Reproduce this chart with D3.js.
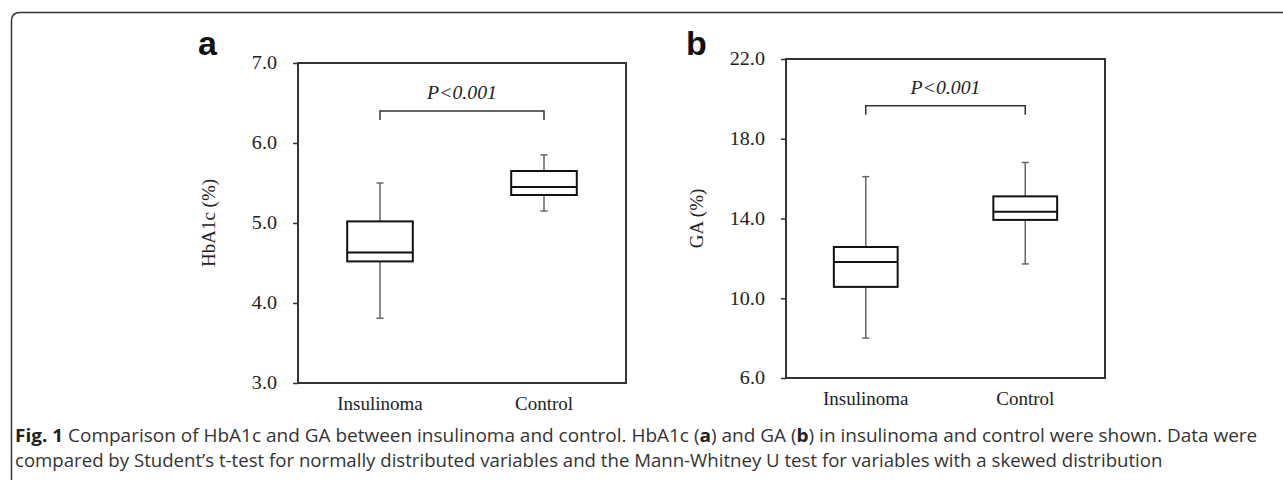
<!DOCTYPE html>
<html>
<head>
<meta charset="utf-8">
<script src="https://cdn.jsdelivr.net/npm/d3@7"></script>
<style>
  body { margin: 0; background: #fff; }
  svg { display: block; }
</style>
</head>
<body>
<div id="chart"></div>
<script>
// groups
const categories = ['Insulinoma', 'Control'];

// HbA1c (%) box stats
const hba1cLow = [3.81, 5.15];
const hba1cQ1 = [4.52, 5.35];
const hba1cMedian = [4.63, 5.45];
const hba1cQ3 = [5.02, 5.65];
const hba1cHigh = [5.50, 5.85];
const hba1cTicks = [3, 4, 5, 6, 7];
const hba1cBracket = 6.4;

// GA (%) box stats
const gaLow = [8.0, 11.72];
const gaQ1 = [10.57, 13.93];
const gaMedian = [11.82, 14.34];
const gaQ3 = [12.57, 15.11];
const gaHigh = [16.1, 16.81];
const gaTicks = [6, 10, 14, 18, 22];
const gaBracket = 19.66;

const pLabel = 'P<0.001';

const W = 1283, H = 480;
const svg = d3.select('#chart').append('svg')
    .attr('width', W)
    .attr('height', H);

// widen glyphs sideways around the text's anchor point (the original figure is stretched)
function stretch(sel, k) {
  sel.each(function () {
    const t = d3.select(this);
    const x = +t.attr('x') || 0, y = +t.attr('y') || 0;
    t.attr('x', 0).attr('y', 0).attr('transform', `translate(${x},${y}) scale(${k},1)`);
  });
}

// outer rounded border (right and bottom run off the picture)
svg.append('path')
    .attr('d', 'M11.5,' + (H + 5) + ' L11.5,21 Q11.5,12.5 20,12.5 L' + (W + 5) + ',12.5')
    .attr('fill', 'none')
    .attr('stroke', '#333')
    .attr('stroke-width', 1.5);

function drawPanel(opt) {
  const g = svg.append('g').attr('transform', `translate(${opt.left},${opt.top})`);
  const w = opt.width, h = opt.height;

  const y = d3.scaleLinear().domain(d3.extent(opt.ticks)).range([h, 0]);
  const x = d3.scalePoint().domain(categories).range([0, w]).padding(0.5);
  const boxW = w * 0.2;

  // y axis
  const ax = g.append('g')
      .call(d3.axisLeft(y).tickValues(opt.ticks).tickFormat(d3.format('.1f')).tickSize(5).tickPadding(16));
  ax.select('.domain').remove();
  ax.selectAll('line').attr('stroke', '#333').attr('stroke-width', 1.5);
  ax.selectAll('text')
      .attr('font-family', 'Liberation Serif')
      .attr('font-size', 18)
      .attr('fill', '#222')
      .call(stretch, 1.12);

  // frame
  g.append('rect')
      .attr('width', w)
      .attr('height', h)
      .attr('fill', 'none')
      .attr('stroke', '#333')
      .attr('stroke-width', 2);

  const rows = categories.map((c, i) => ({
    c: c, lo: opt.low[i], q1: opt.q1[i], med: opt.median[i], q3: opt.q3[i], hi: opt.high[i]
  }));

  const box = g.selectAll('g.box').data(rows).enter().append('g').attr('class', 'box');

  // whiskers
  box.append('line')
      .attr('x1', d => x(d.c)).attr('x2', d => x(d.c))
      .attr('y1', d => y(d.hi)).attr('y2', d => y(d.q3))
      .attr('stroke', '#666').attr('stroke-width', 1.5);
  box.append('line')
      .attr('x1', d => x(d.c)).attr('x2', d => x(d.c))
      .attr('y1', d => y(d.q1)).attr('y2', d => y(d.lo))
      .attr('stroke', '#666').attr('stroke-width', 1.5);
  ['hi', 'lo'].forEach(k => {
    box.append('line')
        .attr('x1', d => x(d.c) - 3.5).attr('x2', d => x(d.c) + 3.5)
        .attr('y1', d => y(d[k])).attr('y2', d => y(d[k]))
        .attr('stroke', '#666').attr('stroke-width', 1.5);
  });

  // boxes
  box.append('rect')
      .attr('x', d => x(d.c) - boxW / 2)
      .attr('y', d => y(d.q3))
      .attr('width', boxW)
      .attr('height', d => y(d.q1) - y(d.q3))
      .attr('fill', '#fff')
      .attr('stroke', '#111')
      .attr('stroke-width', 2);
  box.append('line')
      .attr('x1', d => x(d.c) - boxW / 2).attr('x2', d => x(d.c) + boxW / 2)
      .attr('y1', d => y(d.med)).attr('y2', d => y(d.med))
      .attr('stroke', '#111').attr('stroke-width', 2);

  // significance bracket
  const by = y(opt.bracket);
  const x0 = x(categories[0]), x1 = x(categories[1]);
  g.append('path')
      .attr('d', `M${x0},${by + 9} L${x0},${by} L${x1},${by} L${x1},${by + 9}`)
      .attr('fill', 'none')
      .attr('stroke', '#333')
      .attr('stroke-width', 1.5);
  g.append('text')
      .attr('x', (x0 + x1) / 2)
      .attr('y', by - 12)
      .attr('text-anchor', 'middle')
      .attr('font-family', 'Liberation Serif')
      .attr('font-style', 'italic')
      .attr('font-size', 18)
      .attr('fill', '#222')
      .text(pLabel)
      .call(stretch, 1.1);

  // x labels
  g.selectAll('text.cat').data(categories).enter().append('text')
      .attr('class', 'cat')
      .attr('x', d => x(d))
      .attr('y', h + 27)
      .attr('text-anchor', 'middle')
      .attr('font-family', 'Liberation Serif')
      .attr('font-size', 19)
      .attr('fill', '#222')
      .text(d => d);

  // y label
  g.append('text')
      .attr('transform', `translate(-90,${h / 2}) rotate(-90)`)
      .attr('text-anchor', 'middle')
      .attr('dominant-baseline', 'central')
      .attr('font-family', 'Liberation Serif')
      .attr('font-size', 19)
      .attr('fill', '#222')
      .text(opt.ylabel);

  // panel letter
  g.append('text')
      .attr('x', -100)
      .attr('y', 55 - opt.top)
      .attr('font-family', 'Liberation Sans')
      .attr('font-weight', 'bold')
      .attr('font-size', 34)
      .attr('fill', '#111')
      .text(opt.letter);
}

drawPanel({
  left: 298, top: 63, width: 328, height: 320,
  ticks: hba1cTicks, low: hba1cLow, q1: hba1cQ1, median: hba1cMedian, q3: hba1cQ3, high: hba1cHigh,
  bracket: hba1cBracket, ylabel: 'HbA1c (%)', letter: 'a'
});

drawPanel({
  left: 786, top: 59, width: 319, height: 319,
  ticks: gaTicks, low: gaLow, q1: gaQ1, median: gaMedian, q3: gaQ3, high: gaHigh,
  bracket: gaBracket, ylabel: 'GA (%)', letter: 'b'
});

// caption
const captionLines = [
  { y: 442, width: 1243, parts: [
    ['Fig. 1', true],
    [' Comparison of HbA1c and GA between insulinoma and control. HbA1c (', false],
    ['a', true], [') and GA (', false], ['b', true],
    [') in insulinoma and control were shown. Data were', false]
  ] },
  { y: 467, width: 1148, parts: [
    ['compared by Student\u2019s t-test for normally distributed variables and the Mann-Whitney U test for variables with a skewed distribution', false]
  ] }
];

captionLines.forEach(line => {
  const t = svg.append('text')
      .attr('font-family', 'Open Sans')
      .attr('font-size', 17.5)
      .attr('fill', '#333')
      .attr('xml:space', 'preserve');
  line.parts.forEach(p => {
    t.append('tspan')
        .attr('font-weight', p[1] ? 'bold' : 'normal')
        .attr('fill', p[1] ? '#222' : '#333')
        .text(p[0]);
  });
  const len = t.node().getComputedTextLength();
  t.attr('transform', `translate(15,${line.y}) scale(${line.width / len},1)`);
});
</script>
</body>
</html>
